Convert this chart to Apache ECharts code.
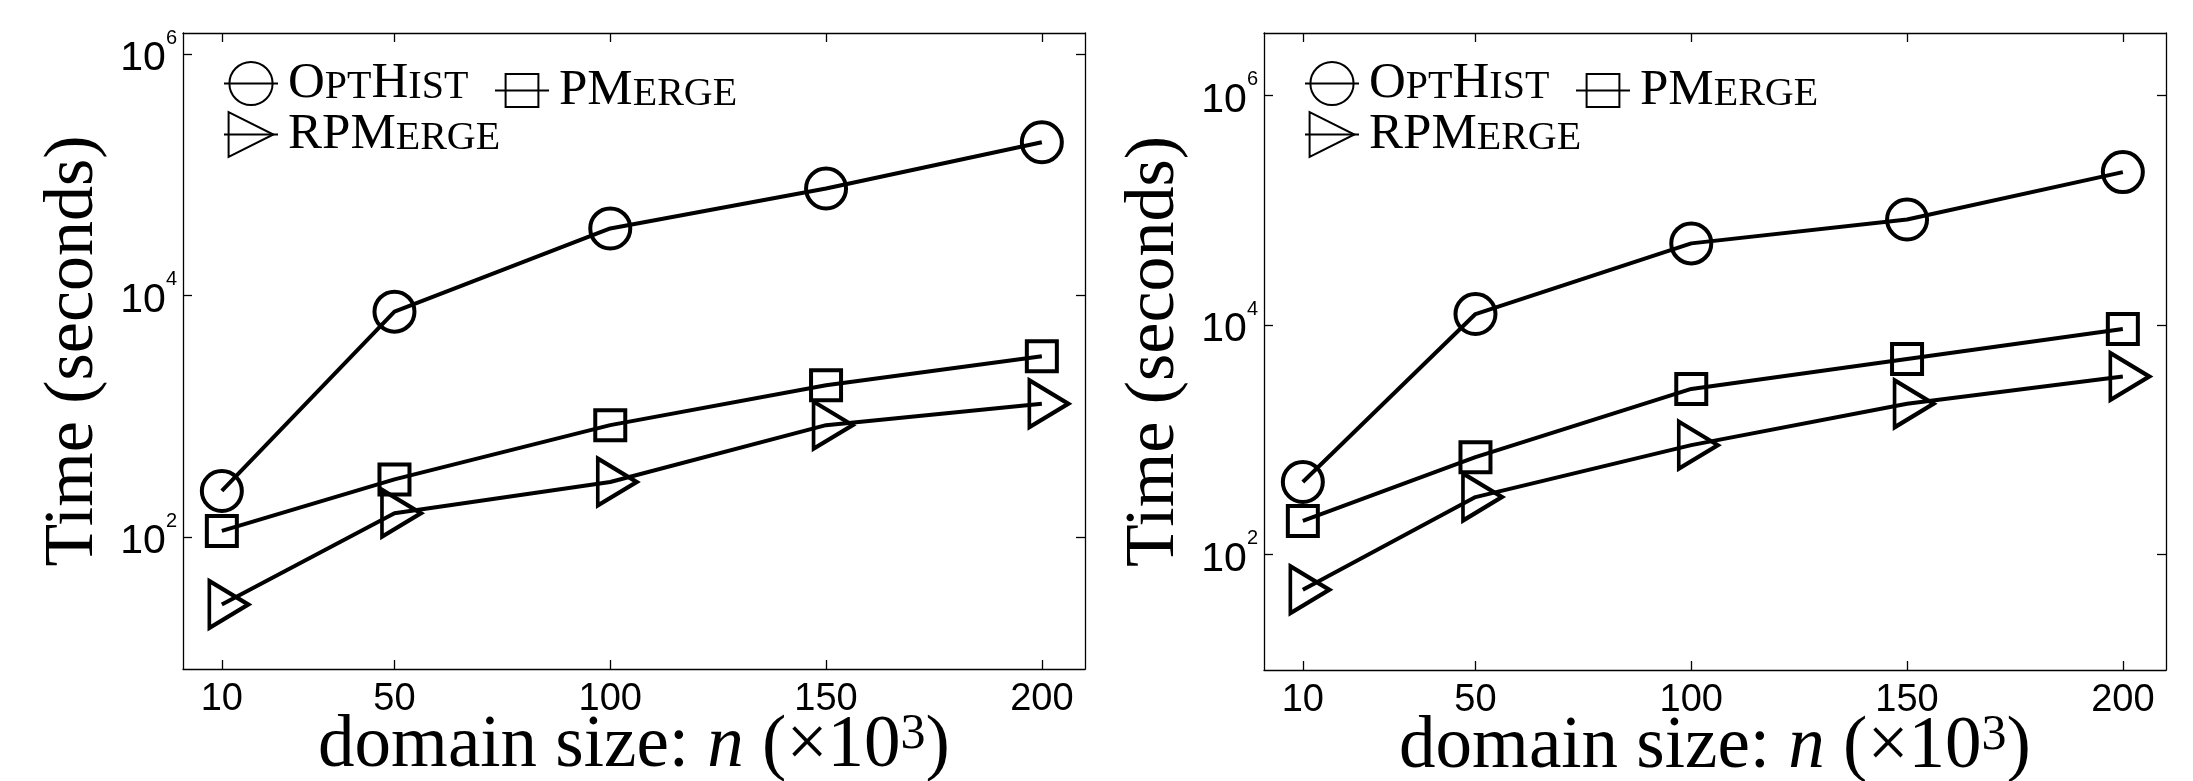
<!DOCTYPE html>
<html><head><meta charset="utf-8">
<script src="https://cdn.jsdelivr.net/npm/echarts@6/dist/echarts.min.js"></script>
<style>html,body{margin:0;padding:0;background:#fff}#c{width:2193px;height:781px}</style>
</head><body><div id="c"></div>
<script>
// ---- data ----
const domainSizes = [10, 50, 100, 150, 200];
const xTickValues = [10, 50, 100, 150, 200];
const yTickValues = [100, 10000, 1000000];
const seriesNames = ['OptHist', 'PMerge', 'RPMerge'];
const leftOptHist = [240, 7340, 35900, 76800, 186000];
const leftPMerge = [112, 299, 842, 1800, 3130];
const leftRPMerge = [27.5, 157, 285, 842, 1267];
const rightOptHist = [426, 12400, 51200, 82700, 214000];
const rightPMerge = [195, 702, 2760, 5030, 9170];
const rightRPMerge = [49.1, 315, 893, 2046, 3540];

const SERIF = '"Liberation Serif","DejaVu Serif",serif';
const SANS = '"Liberation Sans",Arial,sans-serif';

const panels = [
  {left: 183, top: 33, width: 902, height: 636, yMin: 8.04, yMax: 1.493e6,
   values: [leftOptHist, leftPMerge, leftRPMerge]},
  {left: 1264, top: 33, width: 902, height: 637, yMin: 9.8, yMax: 3.49e6,
   values: [rightOptHist, rightPMerge, rightRPMerge]}
];

const markerStyles = {
  OptHist: {symbol: 'circle', symbolSize: 40, symbolOffset: [0, 0]},
  PMerge: {symbol: 'rect', symbolSize: 30, symbolOffset: [0, 0]},
  RPMerge: {symbol: 'path://M0,0L10,6L0,12Z', symbolSize: [39, 47], symbolOffset: [7, 0]}
};
const legendLabels = {
  OptHist: '{a|O}{b|PT}{a|H}{b|IST}',
  PMerge: '{a|PM}{b|ERGE}',
  RPMerge: '{a|RPM}{b|ERGE}'
};

const axisLineStyle = {color: '#000', width: 1.3};
const legendRich = {
  a: {fontFamily: SERIF, fontSize: 51, color: '#000', verticalAlign: 'bottom'},
  b: {fontFamily: SERIF, fontSize: 40, color: '#000', verticalAlign: 'bottom', padding: [0, 0, 2, 0]}
};

const grid = [], xAxis = [], yAxis = [], series = [], legend = [];
panels.forEach((p, g) => {
  grid.push({left: p.left, top: p.top, width: p.width, height: p.height,
             containLabel: false, outerBoundsMode: 'none'});
  xAxis.push({
    type: 'value', gridIndex: g, min: 1, max: 210, position: 'bottom',
    axisLine: {show: true, onZero: false, lineStyle: axisLineStyle},
    axisTick: {show: true, inside: true, length: 9, customValues: xTickValues, lineStyle: axisLineStyle},
    axisLabel: {show: true, customValues: xTickValues, margin: 12, fontSize: 38, fontFamily: SANS, color: '#000'},
    splitLine: {show: false},
    name: '{r|domain size: }{i|n}{r| (×10}{s|3}{r|)}',
    nameLocation: 'middle', nameGap: 41, nameMoveOverlap: false,
    nameTextStyle: {rich: {
      r: {fontFamily: SERIF, fontSize: 73, color: '#000'},
      i: {fontFamily: SERIF, fontSize: 73, fontStyle: 'italic', color: '#000'},
      s: {fontFamily: SERIF, fontSize: 50, color: '#000', verticalAlign: 'top'}
    }}
  });
  xAxis.push({
    type: 'value', gridIndex: g, min: 1, max: 210, position: 'top',
    axisLine: {show: true, onZero: false, lineStyle: axisLineStyle},
    axisTick: {show: true, inside: true, length: 9, customValues: xTickValues, lineStyle: axisLineStyle},
    axisLabel: {show: false}, splitLine: {show: false}
  });
  yAxis.push({
    type: 'log', logBase: 10, gridIndex: g, min: p.yMin, max: p.yMax, position: 'left',
    axisLine: {show: true, onZero: false, lineStyle: axisLineStyle},
    axisTick: {show: true, inside: true, length: 9, customValues: yTickValues, lineStyle: axisLineStyle},
    axisLabel: {
      show: true, customValues: yTickValues, margin: 6,
      formatter: v => '{b|10}{s|' + Math.round(Math.log10(v)) + '}',
      rich: {
        b: {fontFamily: SANS, fontSize: 41, color: '#000', padding: [10, 0, 0, 0]},
        s: {fontFamily: SANS, fontSize: 20, color: '#000', verticalAlign: 'top'}
      }
    },
    splitLine: {show: false},
    name: 'Time (seconds)', nameLocation: 'middle', nameGap: 74, nameMoveOverlap: false,
    nameTextStyle: {fontFamily: SERIF, fontSize: 70, color: '#000'}
  });
  yAxis.push({
    type: 'log', logBase: 10, gridIndex: g, min: p.yMin, max: p.yMax, position: 'right',
    axisLine: {show: true, onZero: false, lineStyle: axisLineStyle},
    axisTick: {show: true, inside: true, length: 9, customValues: yTickValues, lineStyle: axisLineStyle},
    axisLabel: {show: false}, splitLine: {show: false}
  });

  seriesNames.forEach((name, k) => {
    const m = markerStyles[name];
    series.push({
      type: 'line', name: name, xAxisIndex: g * 2, yAxisIndex: g * 2,
      data: domainSizes.map((x, i) => [x, p.values[k][i]]),
      symbol: m.symbol, symbolSize: m.symbolSize, symbolOffset: m.symbolOffset,
      showAllSymbol: true, clip: false,
      lineStyle: {color: '#000', width: 4},
      itemStyle: {color: 'rgba(0,0,0,0)', borderColor: '#000', borderWidth: 4},
      emphasis: {disabled: true}
    });
  });

  const legendBase = {
    orient: 'horizontal', itemWidth: 54, itemGap: 0, selectedMode: false,
    formatter: n => legendLabels[n],
    textStyle: {rich: legendRich, padding: [0, 0, 0, 5]},
    padding: 0
  };
  legend.push(Object.assign({}, legendBase, {data: ['OptHist'], left: p.left + 40, top: 85 - 27, itemHeight: 54}));
  legend.push(Object.assign({}, legendBase, {data: ['PMerge'], left: p.left + 311, top: 85 - 20, itemHeight: 41}));
  legend.push(Object.assign({}, legendBase, {data: ['RPMerge'], left: p.left + 40, top: 137 - 28, itemHeight: 56}));
});

const chart = echarts.init(document.getElementById('c'), null, {renderer: 'canvas'});
chart.setOption({
  animation: false,
  backgroundColor: '#fff',
  grid, xAxis, yAxis, series, legend
});
</script>
</body></html>
